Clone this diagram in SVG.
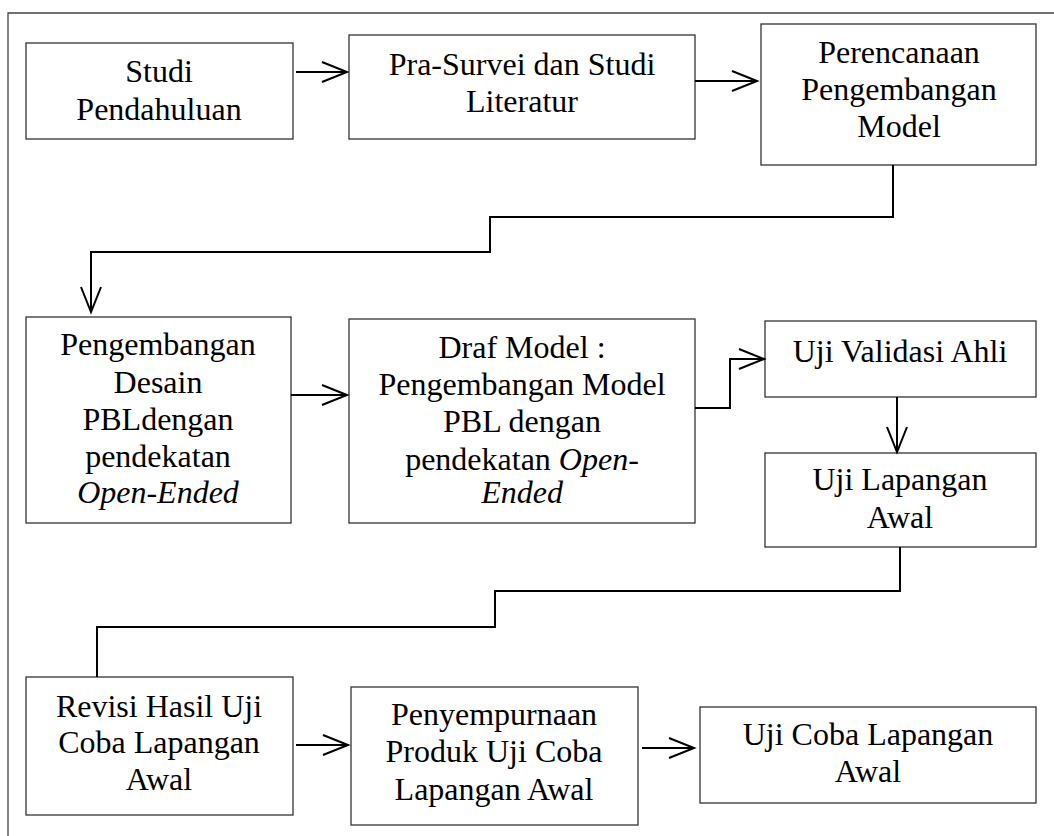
<svg xmlns="http://www.w3.org/2000/svg" width="1054" height="836" viewBox="0 0 1054 836">
<defs>
<marker id="ah" markerWidth="30" markerHeight="24" refX="26" refY="11" orient="auto" markerUnits="userSpaceOnUse">
<path d="M1,1 L26,11 L1,21" fill="none" stroke="#000" stroke-width="2"/>
</marker>
</defs>
<style>
.box{fill:#fff;stroke:#333;stroke-width:1.3}
.t{font-family:Liberation Serif, serif;font-size:32px;fill:#000;text-anchor:middle}
.i{font-style:italic}
.c{fill:none;stroke:#000;stroke-width:2}
.frame{fill:none;stroke:#444;stroke-width:1.3}
</style>
<rect width="1054" height="836" fill="#fff"/>
<path class="frame" d="M8,836 V13 H1054"/>
<g font-family="Liberation Serif, serif">
<g id="n1"><rect class="box" x="26" y="43" width="267" height="96"/>
<text class="t" x="159" y="82">Studi</text><text class="t" x="159" y="120">Pendahuluan</text></g>

<g id="n2"><rect class="box" x="349" y="35" width="346" height="104"/>
<text class="t" x="522" y="75">Pra-Survei dan Studi</text><text class="t" x="522" y="112">Literatur</text></g>

<g id="n3"><rect class="box" x="761" y="24" width="275" height="141"/>
<text class="t" x="899" y="63">Perencanaan</text><text class="t" x="899" y="100">Pengembangan</text><text class="t" x="899" y="137">Model</text></g>

<g id="n4"><rect class="box" x="26" y="317" width="265" height="206"/>
<text class="t" x="158" y="355">Pengembangan</text><text class="t" x="158" y="393">Desain</text><text class="t" x="158" y="430">PBLdengan</text><text class="t" x="158" y="467">pendekatan</text><text class="t i" x="158" y="503">Open-Ended</text></g>

<g id="n5"><rect class="box" x="349" y="319" width="346" height="204"/>
<text class="t" x="522" y="358">Draf Model :</text><text class="t" x="522" y="395">Pengembangan Model</text><text class="t" x="522" y="432">PBL dengan</text><text class="t" x="522" y="470">pendekatan <tspan class="i">Open-</tspan></text><text class="t i" x="522" y="503">Ended</text></g>

<g id="n6"><rect class="box" x="765" y="321" width="271" height="76"/>
<text class="t" x="900" y="362">Uji Validasi Ahli</text></g>

<g id="n7"><rect class="box" x="765" y="453" width="271" height="94"/>
<text class="t" x="900" y="490">Uji Lapangan</text><text class="t" x="900" y="528">Awal</text></g>

<g id="n8"><rect class="box" x="26" y="677" width="267" height="138"/>
<text class="t" x="159" y="717">Revisi Hasil Uji</text><text class="t" x="159" y="753">Coba Lapangan</text><text class="t" x="159" y="790">Awal</text></g>

<g id="n9"><rect class="box" x="351" y="687" width="287" height="138"/>
<text class="t" x="494" y="725">Penyempurnaan</text><text class="t" x="494" y="762">Produk Uji Coba</text><text class="t" x="494" y="800">Lapangan Awal</text></g>

<g id="n10"><rect class="box" x="700" y="707" width="336" height="96"/>
<text class="t" x="868" y="745">Uji Coba Lapangan</text><text class="t" x="868" y="782">Awal</text></g>
</g>
<g id="connectors">
<path class="c" d="M296,72 H347" marker-end="url(#ah)"/>
<path class="c" d="M695,81 H757" marker-end="url(#ah)"/>
<path class="c" d="M893,165 V217 H490 V252 H91 V312" marker-end="url(#ah)"/>
<path class="c" d="M291,395 H347" marker-end="url(#ah)"/>
<path class="c" d="M695,408 H730 V359 H764" marker-end="url(#ah)"/>
<path class="c" d="M897,397 V452" marker-end="url(#ah)"/>
<path class="c" d="M900,547 V591 H495 V627 H97 V677"/>
<path class="c" d="M296,745 H348" marker-end="url(#ah)"/>
<path class="c" d="M642,748 H694" marker-end="url(#ah)"/>
</g>
</svg>
